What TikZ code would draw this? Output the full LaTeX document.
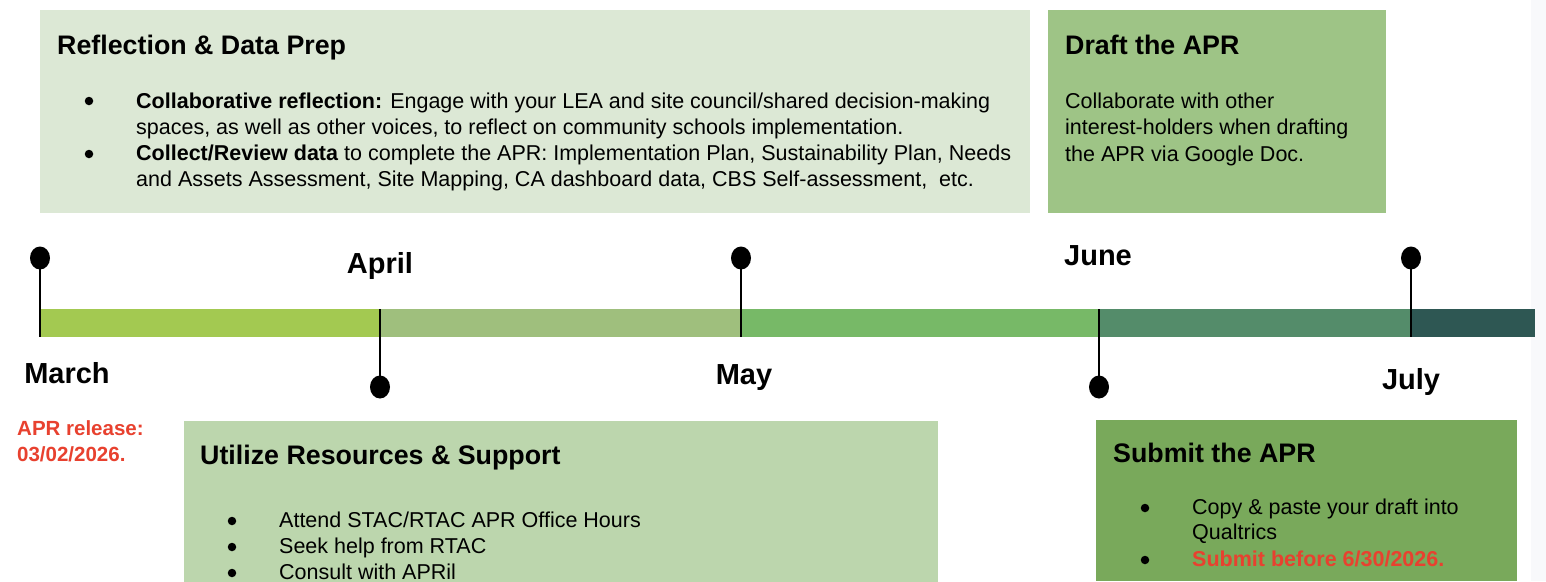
\documentclass[tikz,border=0pt]{standalone}
\usepackage{fontspec}
\setmainfont{Liberation Sans}
\usetikzlibrary{shapes.geometric}
\definecolor{boxA}{HTML}{DCE8D5}
\definecolor{boxB}{HTML}{9EC486}
\definecolor{boxC}{HTML}{BCD6AD}
\definecolor{boxD}{HTML}{79A95B}
\definecolor{segA}{HTML}{A3C951}
\definecolor{segB}{HTML}{9FBF7D}
\definecolor{segC}{HTML}{77B967}
\definecolor{segD}{HTML}{548C6A}
\definecolor{segE}{HTML}{2E5753}
\definecolor{strip}{HTML}{F8F9FB}
\definecolor{alert}{HTML}{E8412F}
\tikzset{
  panel/.style={anchor=north west, inner sep=0pt, outer sep=0pt},
  title/.style={anchor=base west, inner sep=0pt, font=\fontsize{26.8}{31}\selectfont\bfseries},
  body/.style={anchor=base west, inner sep=0pt, font=\fontsize{21.5}{26}\selectfont},
  bul/.style={circle, fill=black, minimum size=8.5pt, inner sep=0pt},
  month/.style={anchor=base, inner sep=0pt, font=\fontsize{29}{34}\selectfont\bfseries},
  red/.style={anchor=base west, inner sep=0pt, text=alert, font=\fontsize{20.5}{25}\selectfont\bfseries},
  pin/.style={ellipse, fill=black, minimum width=20pt, minimum height=23pt, inner sep=0pt},
  stem/.style={draw=black, line width=1.5pt}
}
\begin{document}
\begin{tikzpicture}[x=1pt,y=-1pt]
\useasboundingbox (0,0) rectangle (1546,581);
\fill[white] (0,0) rectangle (1546,581);
\fill[strip] (1531,0) rectangle (1546,581);

% panels
\node[panel, fill=boxA, minimum width=990pt, minimum height=203pt] (refl) at (40,10) {};
\node[panel, fill=boxB, minimum width=338pt, minimum height=203pt] (draft) at (1048,10) {};
\node[panel, fill=boxC, minimum width=754pt, minimum height=161pt] (util) at (184,421) {};
\node[panel, fill=boxD, minimum width=421pt, minimum height=161pt] (subm) at (1096,420) {};

% timeline bar
\fill[segA] (40,309) rectangle (380,337);
\fill[segB] (380,309) rectangle (741,337);
\fill[segC] (741,309) rectangle (1099,337);
\fill[segD] (1099,309) rectangle (1411,337);
\fill[segE] (1411,309) rectangle (1535,337);

% pins
\coordinate (barMarch) at (40,337);
\coordinate (barApril) at (380,309);
\coordinate (barMay) at (741,337);
\coordinate (barJune) at (1099,309);
\coordinate (barJuly) at (1411,337);
\node[pin] (pMarch) at (40,258) {};
\node[pin] (pApril) at (380,387) {};
\node[pin] (pMay) at (741,258) {};
\node[pin] (pJune) at (1099,387) {};
\node[pin] (pJuly) at (1411,258) {};
\draw[stem] (pMarch.center) -- (barMarch);
\draw[stem] (barApril) -- (pApril.center);
\draw[stem] (pMay.center) -- (barMay);
\draw[stem] (barJune) -- (pJune.center);
\draw[stem] (pJuly.center) -- (barJuly);

% month labels
\node[month] (lMarch) at (67,383) {March};
\node[month] (lApril) at (380,273) {April};
\node[month] (lMay) at (744,384) {May};
\node[month] (lJune) at (1098,265) {June};
\node[month] (lJuly) at (1411,389) {July};

% release note
\node[red] (rel1) at (17,435) {APR release:};
\node[red] (rel2) at (17,461) {03/02/2026.};

% Reflection panel text
\node[title] (t1) at (57,54) {Reflection \& Data Prep};
\node[bul] (b11) at (89,101) {};
\node[body] (l11) at (136,108) {\textbf{Collaborative reflection:} Engage with your LEA and site council/shared decision-making};
\node[body] (l12) at (136,134) {spaces, as well as other voices, to reflect on community schools implementation.};
\node[bul] (b12) at (89,154) {};
\node[body] (l13) at (136,160) {\textbf{Collect/Review data} to complete the APR: Implementation Plan, Sustainability Plan, Needs};
\node[body] (l14) at (136,186) {and Assets Assessment, Site Mapping, CA dashboard data, CBS Self-assessment,\ \ etc.};

% Draft panel text
\node[title] (t2) at (1065,54) {Draft the APR};
\node[body] (l21) at (1065,108) {Collaborate with other};
\node[body] (l22) at (1065,134) {interest-holders when drafting};
\node[body] (l23) at (1065,161) {the APR via Google Doc.};

% Utilize panel text
\node[title] (t3) at (200,464) {Utilize Resources \& Support};
\node[bul] (b31) at (232,521) {};
\node[body] (l31) at (279,527) {Attend STAC/RTAC APR Office Hours};
\node[bul] (b32) at (232,547) {};
\node[body] (l32) at (279,553) {Seek help from RTAC};
\node[bul] (b33) at (232,573) {};
\node[body] (l33) at (279,579) {Consult with APRil};

% Submit panel text
\node[title] (t4) at (1113,462) {Submit the APR};
\node[bul] (b41) at (1145,508) {};
\node[body] (l41) at (1192,514) {Copy \& paste your draft into};
\node[body] (l42) at (1192,539) {Qualtrics};
\node[bul] (b42) at (1145,560) {};
\node[body, text=alert, font=\fontsize{21.5}{26}\selectfont\bfseries] (l43) at (1192,566) {Submit before 6/30/2026.};
\end{tikzpicture}
\end{document}
